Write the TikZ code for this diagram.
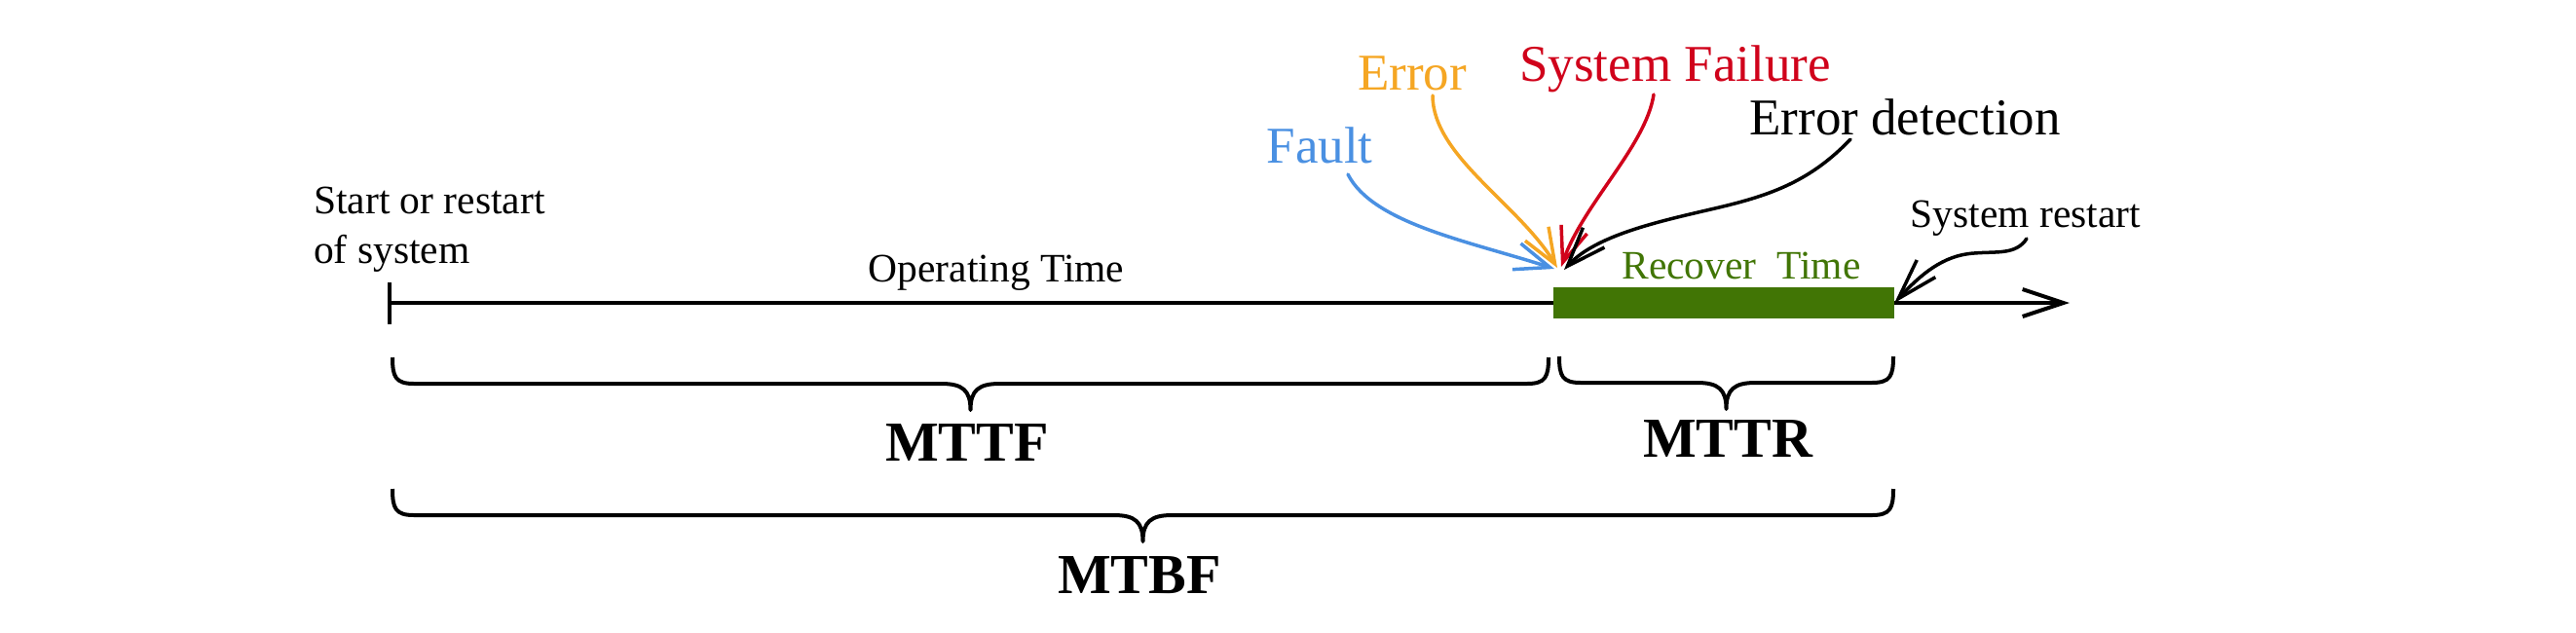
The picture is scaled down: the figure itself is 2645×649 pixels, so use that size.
\documentclass[tikz,border=0pt]{standalone}
\usepackage{fontspec}
\setmainfont{Liberation Serif}
\usetikzlibrary{arrows.meta}
\definecolor{faultblue}{HTML}{4A90E2}
\definecolor{errorange}{HTML}{F5A623}
\definecolor{failred}{HTML}{D0021B}
\definecolor{recgreen}{HTML}{417505}
\tikzset{
  lbl/.style={inner sep=0pt, anchor=base},
  bigl/.style={lbl, font=\fontsize{53}{60}\selectfont},
  midl/.style={lbl, font=\fontsize{41.5}{51}\selectfont},
  boldl/.style={lbl, font=\fontsize{58}{64}\selectfont\bfseries},
  barb/.style={-{Straight Barb[length=36pt,width=28pt]}},
  curve/.style={line width=3.5pt, barb, line cap=round},
  bracel/.style={line width=4pt, line join=round},
}
\newcommand\mybrace[3]{%
  \pgfmathsetmacro\xm{(#1+#2)/2}%
  \draw[bracel] (#1,#3) .. controls (#1,#3+20) and (#1+3,#3+27) .. (#1+22,#3+27)
    -- (\xm-30,#3+27) .. controls (\xm-8,#3+27) and (\xm,#3+34) .. (\xm,#3+54)
    .. controls (\xm,#3+34) and (\xm+8,#3+27) .. (\xm+30,#3+27)
    -- (#2-22,#3+27) .. controls (#2-3,#3+27) and (#2,#3+20) .. (#2,#3);}
\begin{document}
\begin{tikzpicture}[x=1pt,y=-1pt]
\useasboundingbox (0,0) rectangle (2645,649);
% timeline
\coordinate (t0) at (400,311);
\coordinate (t1) at (2125,311);
\coordinate (tickTop) at (400,290);
\coordinate (tickBot) at (400,333);
\draw[line width=4pt] (tickTop) -- (tickBot);
\draw[line width=4pt, -{Straight Barb[length=42pt,width=28pt]}] (t0) -- (t1);
\node[fill=recgreen, inner sep=0pt, minimum width=350pt, minimum height=32pt] (bar) at (1770,311) {};
% labels
\node[midl, anchor=base west, align=left] (start) at (322,270) {Start or restart\\of system};
\node[midl] (op) at (1023,289) {Operating Time};
\node[midl, text=recgreen] (rec) at (1788,286) {Recover\ \ Time};
\node[bigl, text=faultblue] (fault) at (1355,167) {Fault};
\node[bigl, text=errorange] (err) at (1450,92) {Error};
\node[bigl, text=failred] (fail) at (1720,83) {System Failure};
\node[bigl] (det) at (1956,138) {Error detection};
\node[midl] (restart) at (2080,233) {System restart};
% arrows
\coordinate (fs) at (1384,179);
\coordinate (fe) at (1596,276);
\coordinate (es) at (1471,98);
\coordinate (ee) at (1599,275);
\coordinate (ss) at (1698,97);
\coordinate (se) at (1603,274);
\coordinate (ds) at (1900,143);
\coordinate (de) at (1606,277);
\coordinate (rs) at (2081,245);
\draw[curve, faultblue] (fs) .. controls (1410,230) and (1510,248) .. (fe);
\draw[curve, errorange] (es) .. controls (1471,160) and (1560,210) .. (ee);
\draw[curve, failred] (ss) .. controls (1690,150) and (1625,210) .. (se);
\draw[curve, black, -{Straight Barb[length=40pt,width=30pt]}] (ds) .. controls (1860,185) and (1820,200) .. (1765,213)
   .. controls (1710,226) and (1640,240) .. (de);
\draw[curve, black, -{Straight Barb[length=42pt,width=26pt]}] (rs) .. controls (2070,262) and (2050,258) .. (2027,260)
   .. controls (1995,262) and (1972,282) .. (bar.east);
% braces
\mybrace{403}{1590}{367}
\mybrace{1601}{1944}{366}
\mybrace{403}{1944}{502}
\node[boldl] (mttf) at (993,473) {MTTF};
\node[boldl] (mttr) at (1774,469) {MTTR};
\node[boldl] (mtbf) at (1170,609) {MTBF};
\end{tikzpicture}
\end{document}
